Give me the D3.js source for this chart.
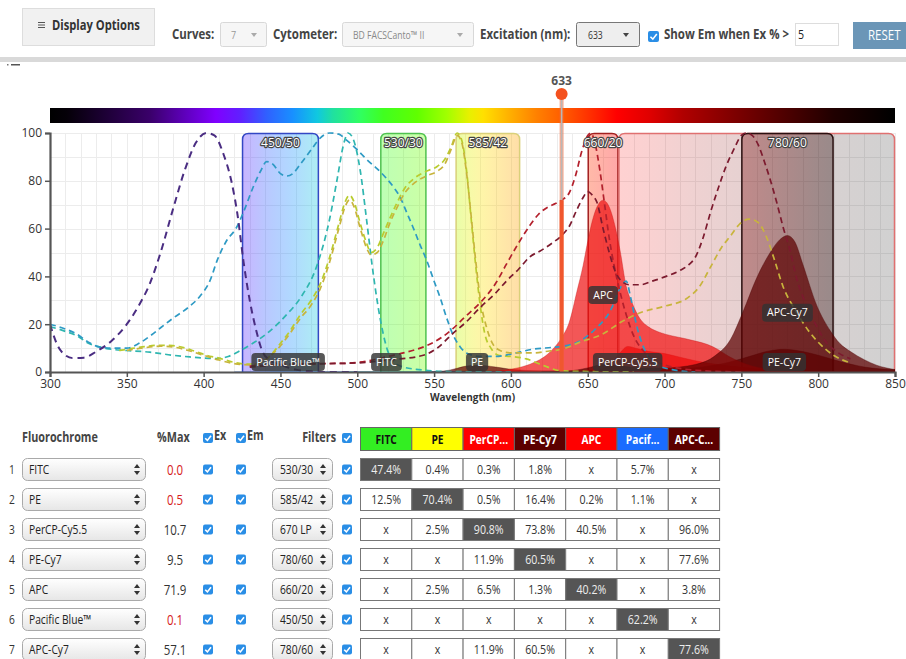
<!DOCTYPE html>
<html>
<head>
<meta charset="utf-8">
<script src="https://cdn.jsdelivr.net/npm/d3@7"></script>
<style>
  html, body { margin: 0; padding: 0; background: #fff; overflow: hidden; }
  svg { display: block; font-family: "Open Sans", "DejaVu Sans", sans-serif; }
</style>
</head>
<body>
<svg id="root" width="906" height="659"></svg>
<script>
// ---------------- data ----------------
const wlTicks = [300, 350, 400, 450, 500, 550, 600, 650, 700, 750, 800, 850];
const pctTicks = [0, 20, 40, 60, 80, 100];
const laserNm = 633;
const emThreshold = 5;
const curveCount = 7;
const cytometer = "BD FACSCanto™ II";

const dyes = ["FITC", "PE", "PerCP-Cy5.5", "PE-Cy7", "APC", "Pacific Blue™", "APC-Cy7"];
const dyeShort = ["FITC", "PE", "PerCP...", "PE-Cy7", "APC", "Pacif...", "APC-C..."];
const dyeColors = ["#33ee22", "#ffff00", "#ff0000", "#5c0000", "#ff0000", "#1a6cff", "#5c0000"];
const pctMax = [0.0, 0.5, 10.7, 9.5, 71.9, 0.1, 57.1];
const dyeFilters = ["530/30", "585/42", "670 LP", "780/60", "660/20", "450/50", "780/60"];

// spillover table: rows = dye, columns = detector of each dye (null = "x")
const spill = [
  [47.4, 0.4, 0.3, 1.8, null, 5.7, null],
  [12.5, 70.4, 0.5, 16.4, 0.2, 1.1, null],
  [null, 2.5, 90.8, 73.8, 40.5, null, 96.0],
  [null, null, 11.9, 60.5, null, null, 77.6],
  [null, 2.5, 6.5, 1.3, 40.2, null, 3.8],
  [null, null, null, null, null, 62.2, null],
  [null, null, 11.9, 60.5, null, null, 77.6]
];

// optical filters (nm)
const filterNames = ["450/50", "530/30", "585/42", "660/20", "670 LP", "780/60"];
const filterFrom = [425, 515, 564, 650, 670, 750];
const filterTo = [475, 545, 606, 670, 850, 810];

// visible spectrum colour stops
const specWl = [300, 311, 333, 365, 389, 408, 424, 441, 458, 474, 484, 502, 517, 539, 558, 573, 582, 599, 617, 632, 651, 669, 690, 712, 744, 777, 810, 849];
const specColor = ["#000000", "#050008", "#1a0030", "#3a006a", "#6000c0", "#8000ff", "#6020ff", "#3060ff", "#1890ff", "#10c8e0", "#20e0a0", "#30ff60", "#40ff20", "#60ff00", "#a0ff00", "#e8f000", "#ffe000", "#ffb000", "#ff8000", "#ff6000", "#ff3000", "#ff0000", "#e00000", "#b00000", "#800000", "#500000", "#200000", "#000000"];

// excitation spectra, [nm, % of max]
const exFITC = [[300,19],[310,17],[318,15],[325,12],[332,10.5],[340,9.5],[350,9],[365,8.3],[380,7],[391,6.3],[400,5.8],[408,5.6],[416,6.5],[424,9],[432,12],[441,16],[448,20],[454,24],[463,31],[474,45],[482,64],[487,81],[491,95],[494,100],[497,98],[502,84],[506,64],[510,43],[515,22],[521,7],[528,2.5],[540,1],[560,0.2],[600,0]];
const exPE = [[345,9],[350,9.5],[360,10.5],[372,11.2],[380,11],[388,10],[395,8.5],[402,7],[410,5.8],[420,4],[428,3.3],[435,3.5],[442,6],[450,12],[456,17],[463,24],[470,30],[476,37],[482,48],[488,62],[492,71],[495,74],[498,71],[502,62],[506,54],[509,50],[513,52],[517,58],[521,64],[526,71],[531,77],[537,81],[545,84],[552,86],[557,89],[561,94],[565,100],[568,97],[571,85],[574,65],[577,45],[580,28],[583,16],[587,10],[592,7],[600,6.5],[610,5.5],[620,3],[633,0.5],[650,0.2],[680,0]];
const exPerCPCy55 = [[300,20],[310,18],[317,16],[325,12.5],[332,10.5],[340,10],[350,10],[358,12],[365,15],[372,18.5],[380,22.5],[390,27],[398,32],[404,38],[409,47],[415,55],[421,60],[426,67],[432,77],[437,84],[441,88],[445,87],[450,83],[454,82],[458,83],[463,87],[470,93],[476,98],[482,100],[488,99.5],[493,97],[500,93],[506,89],[513,85],[519,81],[524,77],[528,73],[532,67],[536,61],[541,53],[545,47],[550,38],[554,31],[558,23],[562,16],[567,10.5],[571,8],[580,6.5],[590,6.5],[600,7.5],[614,9.5],[627,10.3],[633,10.7],[645,13],[655,18],[665,26],[671,35],[675,38],[678,31],[682,19],[688,8],[695,3],[705,1],[720,0]];
const exPECy7 = [[350,9],[360,10],[372,10.8],[380,10.5],[390,9],[400,7],[410,5],[420,3.5],[430,3],[440,5],[450,11],[456,16],[463,22.5],[470,28],[476,35],[482,46],[488,60],[492,69],[495,72],[498,69],[502,60],[506,52],[509,49],[513,50],[517,55],[521,62],[526,69],[531,75],[537,79],[545,82],[552,84],[557,87],[561,93],[565,99],[568,96],[571,84],[574,66],[577,47],[580,31],[584,19],[588,12],[593,9],[600,8],[615,8],[625,8.8],[633,9.5],[645,12.5],[660,16],[672,21],[685,25],[700,27.5],[715,31],[723,36],[730,44],[737,52],[743,57],[749,62],[755,64],[761,62.5],[766,57],[771,48],[777,36],[786,25],[794,17],[800,12.5],[810,7],[820,4]];
const exAPC = [[430,2.5],[450,3.2],[470,3.5],[490,3.6],[500,4],[510,5],[520,6.5],[530,8],[545,11],[555,14.5],[562,18],[570,23],[580,29],[590,37],[597,45],[605,54],[612,61],[618,66],[624,69],[629,70.5],[633,71.9],[638,75],[642,82],[646,92],[650,99],[652,100],[655,95],[658,84],[661,70],[664,56],[668,42],[672,31],[676,22],[680,15],[686,9],[693,5],[700,3],[710,1.5],[725,0.5],[750,0]];
const exPacificBlue = [[300,20],[305,11],[310,7],[315,5.8],[322,6],[330,8.5],[340,13],[350,20],[358,28],[365,37],[372,50],[380,68],[388,85],[395,96],[402,100],[407,99],[413,91],[418,80],[422,66],[426,46],[430,30],[434,18],[438,9],[443,5],[450,3],[460,1],[470,0.3],[480,0],[500,0]];
const exAPCCy7 = [[430,2],[450,3],[480,3.5],[500,3.8],[520,5],[543,7],[552,10],[562,16],[571,21],[580,27],[590,33],[597,38],[605,43],[612,48],[620,51],[627,54],[633,57.1],[638,61],[643,68],[647,73],[650,75.5],[653,74],[656,71],[660,60],[664,50],[668,42],[672,38],[677,36.5],[684,36.5],[692,38],[701,40],[710,42.5],[716,45],[720,48],[725,56],[730,67],[735,77],[740,86],[745,93],[750,99],[753,100],[757,99],[761,95],[765,88],[769,80],[773,71],[777,61],[782,50],[786,39],[791,30],[795,24],[800,18],[804,13.5],[812,8.5],[821,5.5]];

// emission spectra, [nm, % of max]
const emFITC = [[490,0],[505,40],[519,100],[530,80],[550,45],[580,20],[620,5],[650,0]];
const emPE = [[550,0],[565,40],[578,100],[590,70],[610,30],[640,10],[680,2],[700,0]];
const emPerCPCy55 = [[640,0],[655,5],[665,30],[671,75],[676,100],[682,92],[690,80],[700,72],[710,58],[720,44],[740,25],[760,14],[780,7],[800,3],[830,1],[850,0.5]];
const emPECy7 = [[545,0],[560,8],[570,25],[578,30],[590,22],[600,12],[620,5],[650,5],[680,8],[700,11],[720,19],[740,40],[755,68],[768,93],[778,100],[790,90],[800,74],[815,45],[830,22],[850,10]];
const emAPC = [[585,0],[595,1],[605,2.5],[615,5.5],[622,9],[628,14],[633,20],[638,29],[643,47],[647,62],[650,76],[653,88],[656,96],[660,100],[664,96],[668,84],[671,71],[675,50],[679,40],[684,31],[690,26],[697,23],[705,21],[713,19.5],[720,18],[728,16],[735,13],[742,9],[749,6],[757,3.5],[765,2],[780,0.8],[800,0.3],[820,0]];
const emPacificBlue = [[420,0],[440,50],[455,100],[470,70],[500,30],[540,8],[600,0]];
const emAPCCy7 = [[620,0],[640,1],[650,3],[660,5.5],[670,4.5],[685,3],[700,3],[720,5.5],[733,12],[743,24],[751,44],[760,69],[769,88],[775,97],[780,100],[785,95],[790,79],[799,49],[808,30],[814,21],[821,15],[830,9],[838,5],[850,1.8]];

const exSpectra = [exFITC, exPE, exPerCPCy55, exPECy7, exAPC, exPacificBlue, exAPCCy7];
const emSpectra = [emFITC, emPE, emPerCPCy55, emPECy7, emAPC, emPacificBlue, emAPCCy7];

// ---------------- styles ----------------
const exStroke = ["#2fb6b0", "#b9cc2e", "#2e9ac4", "#c8b43c", "#b3202c", "#4a2d82", "#7c1a2e"];
const emFill = ["#33cc33", "#c8a000", "#ee0000", "#5c0000", "#ee1010", "#1a6cff", "#5c0000"];
const emOpacity = [0.68, 0.68, 0.7, 0.72, 0.7, 0.68, 0.72];
const filterStroke = ["#3347c4", "#4fc24f", "#d9d07a", "#a32020", "#e07070", "#2a1010"];
const narrow = 0.82;   // horizontal squeeze for UI labels

// ---------------- setup ----------------
const svg = d3.select("#root");
const defs = svg.append("defs");
const W = 906;

const x = d3.scaleLinear().domain([300, 850]).range([50, 895]);
const y = d3.scaleLinear().domain([0, 100]).range([372, 133]);
const spectrum = d3.scaleLinear().domain(specWl).range(specColor).interpolate(d3.interpolateRgb).clamp(true);

// condensed text helper
function ctext(g, tx, ty, s, o) {
  o = o || {};
  const sx = o.sx == null ? narrow : o.sx;
  return g.append("text")
    .attr("transform", `translate(${tx},${ty}) scale(${sx},1)`)
    .attr("text-anchor", o.anchor || "start")
    .attr("font-size", o.size || 14)
    .attr("font-weight", o.weight || "normal")
    .attr("fill", o.fill || "#333")
    .text(s);
}

// ---------------- toolbar ----------------
const tb = svg.append("g");
tb.append("rect").attr("x", 22.5).attr("y", 8.5).attr("width", 132).attr("height", 37)
  .attr("fill", "#f1f1f1").attr("stroke", "#dddddd");
[22.5, 25, 27.5].forEach(yy => tb.append("line").attr("x1", 38).attr("x2", 45).attr("y1", yy).attr("y2", yy)
  .attr("stroke", "#555").attr("stroke-width", 1));
ctext(tb, 52, 30, "Display Options", { size: 14, weight: "bold", fill: "#333", sx: 0.8 });

function tbLabel(tx, txt) { ctext(tb, tx, 39, txt, { size: 14, weight: "bold", fill: "#444" }); }
function caret(cx, cy, col) {
  tb.append("path").attr("d", `M${cx - 3},${cy - 2}L${cx + 3},${cy - 2}L${cx},${cy + 2}Z`).attr("fill", col);
}
tbLabel(172, "Curves:");
tb.append("rect").attr("x", 220.5).attr("y", 22.5).attr("width", 46).attr("height", 24).attr("rx", 2)
  .attr("fill", "#f6f6f6").attr("stroke", "#d8d8d8");
ctext(tb, 231, 39, curveCount, { size: 11, fill: "#999" });
caret(254, 35, "#aaa");

tbLabel(273, "Cytometer:");
tb.append("rect").attr("x", 342.5).attr("y", 22.5).attr("width", 131).attr("height", 24).attr("rx", 2)
  .attr("fill", "#f6f6f6").attr("stroke", "#d8d8d8");
ctext(tb, 353, 38.5, cytometer, { size: 10.5, fill: "#888" });
caret(460, 35, "#aaa");

tbLabel(480, "Excitation (nm):");
tb.append("rect").attr("x", 576.5).attr("y", 22.5).attr("width", 63).attr("height", 24).attr("rx", 2)
  .attr("fill", "#eeeeee").attr("stroke", "#777");
ctext(tb, 588, 38.5, laserNm, { size: 10.5, fill: "#333" });
caret(626, 35, "#444");

function checkbox(g, cx, cy, s) {
  s = s || 11;
  g.append("rect").attr("x", cx - s / 2).attr("y", cy - s / 2).attr("width", s).attr("height", s).attr("rx", 2)
    .attr("fill", "#2a8ee6");
  g.append("path").attr("d", `M${cx - s * 0.28},${cy + s * 0.02}L${cx - s * 0.06},${cy + s * 0.24}L${cx + s * 0.3},${cy - s * 0.22}`)
    .attr("fill", "none").attr("stroke", "#fff").attr("stroke-width", 1.6);
}
checkbox(tb, 653.5, 36.5, 11);
tbLabel(664, "Show Em when Ex % >");
tb.append("rect").attr("x", 795.5).attr("y", 23.5).attr("width", 43).attr("height", 22)
  .attr("fill", "#fff").attr("stroke", "#dddddd");
ctext(tb, 798, 39, emThreshold, { size: 13, fill: "#222" });
tb.append("rect").attr("x", 853).attr("y", 22).attr("width", 53).attr("height", 27).attr("fill", "#6b96b7");
ctext(tb, 868, 40, "RESET", { size: 14, fill: "#fff" });

svg.append("rect").attr("x", 0).attr("y", 57).attr("width", W).attr("height", 5).attr("fill", "#d9d9d9");
svg.append("rect").attr("x", 11).attr("y", 64).attr("width", 9).attr("height", 1.5).attr("fill", "#555");
svg.append("rect").attr("x", 7).attr("y", 64).attr("width", 1.5).attr("height", 1.5).attr("fill", "#777");

// ---------------- spectrum chart ----------------
const chart = svg.append("g");

// colour bar
const cbGrad = defs.append("linearGradient").attr("id", "cbar").attr("x1", "0%").attr("x2", "100%");
specWl.forEach((w, i) => cbGrad.append("stop").attr("offset", ((w - 300) / 550 * 100) + "%").attr("stop-color", specColor[i]));
chart.append("rect").attr("x", x(300)).attr("y", 108).attr("width", x(850) - x(300)).attr("height", 15)
  .attr("fill", "url(#cbar)");

// grid
const grid = chart.append("g").attr("stroke", "#ececec").attr("stroke-width", 1);
d3.range(310, 851, 10).forEach(w => grid.append("line").attr("x1", Math.round(x(w)) + 0.5).attr("x2", Math.round(x(w)) + 0.5)
  .attr("y1", y(100)).attr("y2", y(0)));
d3.range(10, 101, 10).forEach(v => grid.append("line").attr("x1", x(300)).attr("x2", x(850))
  .attr("y1", Math.round(y(v)) + 0.5).attr("y2", Math.round(y(v)) + 0.5));

defs.append("clipPath").attr("id", "plotClip").append("rect")
  .attr("x", x(300)).attr("y", y(100) - 2).attr("width", x(850) - x(300)).attr("height", y(0) - y(100) + 2);

// filters
const fg = chart.append("g");
filterNames.forEach((nm, i) => {
  const lo = filterFrom[i], hi = filterTo[i];
  const isLP = nm.indexOf("LP") >= 0;
  const gid = "fgrad" + i;
  const gr = defs.append("linearGradient").attr("id", gid).attr("x1", "0%").attr("x2", "100%");
  d3.range(0, 1.0001, 0.1).forEach(t => gr.append("stop").attr("offset", (t * 100) + "%")
    .attr("stop-color", spectrum(lo + t * (hi - lo))).attr("stop-opacity", isLP ? 0.18 : 0.34));
  const x0 = x(lo) + 0.5, x1 = x(hi) - 0.5, y0 = y(100) + 0.5, y1 = y(0), r = 6;
  const d = `M${x0},${y1}V${y0 + r}Q${x0},${y0} ${x0 + r},${y0}H${x1 - r}Q${x1},${y0} ${x1},${y0 + r}V${y1}`;
  fg.append("path").attr("d", d + "Z").attr("fill", `url(#${gid})`);
  fg.append("path").attr("d", d).attr("fill", "none").attr("stroke", filterStroke[i]).attr("stroke-width", 1.5);
});

// emission areas, scaled by the excitation efficiency of each dye
const emArea = d3.area().x(d => x(d[0])).y0(y(0)).y1(d => y(d[1])).curve(d3.curveMonotoneX);
const emG = chart.append("g").attr("clip-path", "url(#plotClip)");
emSpectra.forEach((sp, i) => {
  const k = pctMax[i] / 100;
  const pts = sp.map(p => [p[0], p[1] * k]);
  emG.append("path").attr("d", emArea(pts)).attr("fill", emFill[i]).attr("fill-opacity", emOpacity[i])
    .attr("stroke", d3.color(emFill[i]).darker(0.6)).attr("stroke-opacity", 0.45).attr("stroke-width", 0.8);
});

// excitation curves
const exLine = d3.line().x(d => x(d[0])).y(d => y(d[1])).curve(d3.curveMonotoneX);
const exG = chart.append("g").attr("clip-path", "url(#plotClip)");
exSpectra.forEach((sp, i) => {
  exG.append("path").attr("d", exLine(sp)).attr("fill", "none").attr("stroke", exStroke[i])
    .attr("stroke-width", i === 5 ? 2 : 1.7).attr("stroke-dasharray", i === 5 ? "7,5" : "6,4");
});

// laser line
const laserTop = d3.max(pctMax);
const lx = x(laserNm);
chart.append("line").attr("x1", lx).attr("x2", lx).attr("y1", 94).attr("y2", y(0))
  .attr("stroke", "#f26a3c").attr("stroke-opacity", 0.55).attr("stroke-width", 4);
chart.append("line").attr("x1", lx).attr("x2", lx).attr("y1", 94).attr("y2", y(laserTop))
  .attr("stroke", "#b8b8b8").attr("stroke-width", 1.6);
chart.append("line").attr("x1", lx).attr("x2", lx).attr("y1", y(laserTop)).attr("y2", y(0))
  .attr("stroke", "#f0572e").attr("stroke-width", 4);
chart.append("circle").attr("cx", lx).attr("cy", 94).attr("r", 6).attr("fill", "#f4511e");
chart.append("text").attr("x", lx).attr("y", 85).attr("text-anchor", "middle").attr("font-size", 12)
  .attr("font-weight", "bold").attr("fill", "#555").text(laserNm);

// axes
const xAxis = d3.axisBottom(x).tickValues(wlTicks).tickSize(5).tickPadding(2);
const yAxis = d3.axisLeft(y).tickValues(pctTicks).tickSize(5).tickPadding(3);
const gx = chart.append("g").attr("transform", `translate(0,${y(0)})`).call(xAxis);
const gy = chart.append("g").attr("transform", `translate(${x(300)},0)`).call(yAxis);
[gx, gy].forEach(g => {
  g.select(".domain").attr("stroke", "#555").attr("stroke-width", 2.2);
  g.selectAll(".tick line").attr("stroke", "#555").attr("stroke-width", 1.5);
  g.selectAll(".tick text").attr("font-size", 12).attr("fill", "#333").attr("font-family", "Open Sans, sans-serif");
});
chart.append("text").attr("x", (x(300) + x(850)) / 2).attr("y", 401).attr("text-anchor", "middle")
  .attr("font-size", 10).attr("font-weight", "bold").attr("fill", "#333").text("Wavelength (nm)");

// filter labels (band-pass only)
filterNames.forEach((nm, i) => {
  if (nm.indexOf("/") < 0) return;
  chart.append("text").attr("x", x((filterFrom[i] + filterTo[i]) / 2)).attr("y", 147).attr("text-anchor", "middle")
    .attr("font-size", 12).attr("fill", "#fff").attr("stroke", "#444").attr("stroke-width", 2.4)
    .attr("paint-order", "stroke").attr("stroke-linejoin", "round").text(nm);
});

// emission labels at each emission peak
const lblG = chart.append("g");
emSpectra.forEach((sp, i) => {
  const pk = sp.reduce((a, b) => (b[1] > a[1] ? b : a));
  const peakVal = pk[1] * pctMax[i] / 100;
  const top = Math.min(y(peakVal / 2), y(0) - 19);
  const g = lblG.append("g");
  const t = g.append("text").attr("x", x(pk[0])).attr("y", top + 12.5).attr("text-anchor", "middle")
    .attr("font-size", 10.5).attr("fill", "#fff").text(dyes[i]);
  const w = t.node().getComputedTextLength() + 10;
  g.insert("rect", "text").attr("x", x(pk[0]) - w / 2).attr("y", top).attr("width", w).attr("height", 18)
    .attr("rx", 4).attr("fill", "#333").attr("fill-opacity", 0.82);
});

// ---------------- table ----------------
const tbl = svg.append("g");
const hdrY = 442;
const hdr = { size: 13.5, weight: "bold", fill: "#444", sx: 0.8 };
ctext(tbl, 22, hdrY, "Fluorochrome", hdr);
ctext(tbl, 157, hdrY, "%Max", hdr);
checkbox(tbl, 208, 438, 10);
ctext(tbl, 214, hdrY - 2, "Ex", hdr);
checkbox(tbl, 241, 438, 10);
ctext(tbl, 247, hdrY - 2, "Em", hdr);
ctext(tbl, 336, hdrY, "Filters", Object.assign({ anchor: "end" }, hdr));
checkbox(tbl, 347, 438, 10);

const cx0 = 360.5, cw = 51.3;
dyeShort.forEach((nm, j) => {
  tbl.append("rect").attr("x", cx0 + j * cw).attr("y", 427.5).attr("width", cw).attr("height", 23)
    .attr("fill", dyeColors[j]).attr("stroke", "#666").attr("stroke-width", 1);
  const light = dyeColors[j] === "#33ee22" || dyeColors[j] === "#ffff00";
  ctext(tbl, cx0 + j * cw + cw / 2, 443.5, nm, { anchor: "middle", size: 12, weight: "bold", fill: light ? "#111" : "#fff", sx: 0.85 });
});

function updown(g, cx, cy) {
  g.append("path").attr("d", `M${cx - 3},${cy - 1.5}L${cx + 3},${cy - 1.5}L${cx},${cy - 5.5}Z`).attr("fill", "#333");
  g.append("path").attr("d", `M${cx - 3},${cy + 1.5}L${cx + 3},${cy + 1.5}L${cx},${cy + 5.5}Z`).attr("fill", "#333");
}
const selGrad = defs.append("linearGradient").attr("id", "selg").attr("x1", "0").attr("x2", "0").attr("y1", "0").attr("y2", "1");
selGrad.append("stop").attr("offset", "0%").attr("stop-color", "#ffffff");
selGrad.append("stop").attr("offset", "100%").attr("stop-color", "#e6e6e6");

dyes.forEach((nm, i) => {
  const ry = 458.5 + i * 30, rc = ry + 11;
  ctext(tbl, 12, rc + 4, i + 1, { anchor: "middle", size: 12, fill: "#333", sx: 0.85 });
  tbl.append("rect").attr("x", 22.5).attr("y", ry).attr("width", 123).attr("height", 22).attr("rx", 5)
    .attr("fill", "url(#selg)").attr("stroke", "#a9a9a9");
  ctext(tbl, 29, rc + 4.5, nm, { size: 12.5, fill: "#222", sx: 0.82 });
  updown(tbl, 137, rc);
  ctext(tbl, 175, rc + 5, pctMax[i].toFixed(1), { anchor: "middle", size: 14, fill: pctMax[i] < emThreshold ? "#d62020" : "#333", sx: 0.82 });
  checkbox(tbl, 208, rc, 10);
  checkbox(tbl, 241, rc, 10);
  tbl.append("rect").attr("x", 272.5).attr("y", ry).attr("width", 60).attr("height", 22).attr("rx", 5)
    .attr("fill", "url(#selg)").attr("stroke", "#a9a9a9");
  ctext(tbl, 280, rc + 4.5, dyeFilters[i], { size: 12.5, fill: "#222", sx: 0.82 });
  updown(tbl, 323, rc);
  checkbox(tbl, 347, rc, 10);
  spill[i].forEach((v, j) => {
    const diag = i === j;
    tbl.append("rect").attr("x", cx0 + j * cw).attr("y", ry).attr("width", cw).attr("height", 22)
      .attr("fill", diag ? "#555" : "#fff").attr("stroke", "#777").attr("stroke-width", 1);
    ctext(tbl, cx0 + j * cw + cw / 2, rc + 4.5, v === null ? "x" : v.toFixed(1) + "%",
      { anchor: "middle", size: 12.5, fill: diag ? "#eee" : "#333", sx: 0.85 });
  });
});
</script>
</body>
</html>
